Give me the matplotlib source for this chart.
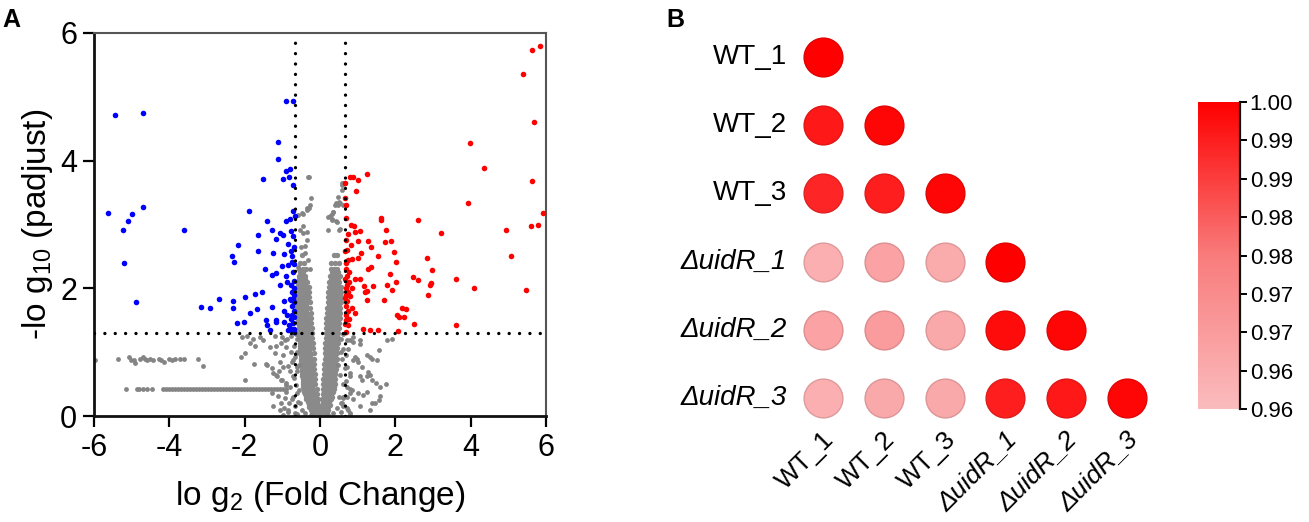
import matplotlib
matplotlib.use("Agg")
import matplotlib.pyplot as plt
import numpy as np
from matplotlib.colors import LinearSegmentedColormap

plt.rcParams['font.family'] = ['Liberation Sans', 'DejaVu Sans']
plt.rcParams['mathtext.fontset'] = 'custom'
plt.rcParams['mathtext.rm'] = 'Liberation Sans'
plt.rcParams['mathtext.it'] = 'Liberation Sans:italic'
plt.rcParams['mathtext.bf'] = 'Liberation Sans:bold'

# ---------------- Panel A data (volcano) ----------------
fc_threshold = 0.66
p_threshold = 1.30

blue_x = [-5.44, -4.69, -5.64, -5.22, -5.11, -5.00, -4.71, -5.20, -4.89, -3.61,
          -1.89, -1.51, -1.11, -1.11, -0.90, -0.71, -0.90, -0.80, -0.98, -0.82, -0.71,
          -1.40, -1.28, -1.65, -1.65, -2.18, -2.33, -2.29, -1.16, -1.05, -0.98,
          -0.90, -0.80, -0.71, -0.67,
          -0.96, -0.84, -0.77, -0.71, -1.28, -1.18, -1.05, -0.88, -0.85, -0.74, -0.68, -0.72,
          -3.15, -2.92, -2.67, -2.30, -2.30, -1.98, -1.72, -1.68, -1.28, -1.44, -1.40, -1.32,
          -2.21, -2.03, -1.16, -1.16, -0.96, -0.96, -0.80, -0.76, -0.71, -0.68, -0.74, -0.71, -0.75, -0.68,
          -0.70, -0.74, -0.69, -0.78, -0.70, -0.73, -0.69, -0.78, -0.70, -0.82, -0.70, -0.86, -0.73,
          -0.69, -0.76, -0.90, -0.95, -1.00, -1.25, -1.45, -1.55, -1.85, -0.88]
blue_y = [4.71, 4.74, 3.18, 2.92, 3.05, 3.16, 3.27, 2.40, 1.79, 2.92,
          3.21, 3.72, 4.29, 4.03, 4.94, 4.93, 3.84, 3.87, 3.72, 3.75, 3.62,
          3.05, 2.92, 2.83, 2.59, 2.68, 2.51, 2.42, 2.77, 2.86, 2.84,
          3.05, 3.08, 3.21, 3.14,
          2.54, 2.70, 2.58, 2.82, 2.21, 2.24, 2.06, 2.10, 2.37, 2.42, 2.38, 2.26,
          1.71, 1.69, 1.84, 1.80, 1.69, 1.87, 1.91, 1.67, 1.71, 1.50, 1.42, 1.34,
          1.45, 1.47, 1.50, 1.47, 1.47, 1.64, 1.84, 1.82, 1.84, 1.79, 1.58, 1.45, 1.37, 1.37,
          1.90, 1.95, 2.00, 2.05, 2.12, 1.72, 1.65, 1.52, 1.55, 1.42, 1.32, 1.35, 2.50,
          2.65, 2.90, 2.20, 1.80, 2.35, 2.55, 2.30, 1.95, 1.62, 1.58]

red_x = [5.83, 5.63, 5.38, 5.67, 3.98, 4.36, 5.64, 3.94, 5.91, 4.93, 5.59, 5.80, 5.07, 5.46,
         4.09, 3.62, 3.60, 3.20, 2.61, 2.85, 2.97, 2.91, 2.95, 2.87, 2.48, 2.61, 2.49,
         1.61, 1.63, 1.75, 1.72, 1.89, 1.97, 2.03, 1.55, 1.35, 1.27, 1.28, 1.35, 1.87, 2.01,
         1.79, 1.90, 1.40, 1.16, 1.26, 1.19, 1.25, 1.70, 2.17, 2.28, 2.04, 2.09, 2.23,
         1.15, 1.33, 1.55, 2.08,
         1.24, 0.80, 0.87, 1.02, 0.95, 0.66, 0.66, 0.82, 0.90, 1.06, 0.93, 1.00, 0.82, 0.66,
         1.09, 1.02, 0.84, 0.75, 0.93, 1.06, 0.66, 0.75, 0.68,
         0.67, 0.70, 0.74, 0.68, 0.72, 0.78, 0.67, 0.71, 0.76, 0.69, 0.73, 0.80, 0.84, 0.68,
         0.74, 0.68, 0.78, 0.70, 0.72, 0.68, 0.75, 0.70, 0.68, 0.85, 0.92, 0.68]
red_y = [5.79, 5.73, 5.36, 4.60, 4.27, 3.89, 3.68, 3.33, 3.18, 2.92, 2.97, 2.99, 2.50, 1.97,
         2.01, 2.14, 1.43, 2.86, 3.07, 2.47, 2.29, 2.06, 2.08, 1.90, 2.18, 2.13, 1.44,
         3.10, 3.07, 2.92, 2.72, 2.74, 2.57, 2.42, 2.50, 2.34, 2.31, 2.74, 2.65, 2.22, 2.10,
         2.05, 1.97, 2.04, 2.04, 1.96, 1.95, 1.81, 1.82, 1.70, 1.67, 1.58, 1.55, 1.55,
         1.36, 1.35, 1.34, 1.33,
         3.79, 3.75, 3.75, 3.69, 3.52, 3.65, 3.41, 2.99, 2.97, 2.90, 2.89, 2.74, 2.68, 2.59,
         2.55, 2.48, 2.46, 2.45, 2.14, 2.14, 1.44, 1.42, 1.32,
         1.85, 1.90, 1.95, 2.00, 2.05, 2.10, 2.15, 2.20, 2.25, 2.30, 1.80, 1.88, 2.00, 1.72,
         1.65, 1.58, 1.52, 2.40, 2.60, 2.75, 2.85, 3.10, 3.30, 1.70, 1.62, 1.50]

# dense V-shaped cloud of non-significant genes: rows of -log10 level -> log2FC values
gray_rows = {
    0.02: [-0.14, -0.08, -0.03, 0.00, 0.03, 0.08, 0.13],
    0.06: [-0.20, -0.12, -0.05, 0.05, 0.11, 0.18],
    0.10: [-0.24, -0.17, -0.10, -0.04, 0.04, 0.10, 0.16, 0.22],
    0.14: [-0.28, -0.20, -0.12, -0.05, 0.05, 0.13, 0.21],
    0.18: [-0.30, -0.22, -0.14, -0.06, 0.05, 0.12, 0.19, 0.26],
    0.22: [-0.33, -0.26, -0.18, -0.09, 0.08, 0.16, 0.24],
    0.26: [-0.36, -0.28, -0.20, -0.12, -0.06, 0.06, 0.13, 0.20, 0.28],
    0.30: [-0.38, -0.30, -0.22, -0.14, 0.10, 0.17, 0.25, 0.31],
    0.34: [-0.40, -0.32, -0.24, -0.16, -0.08, 0.07, 0.14, 0.22, 0.30],
    0.38: [-0.42, -0.34, -0.26, -0.18, 0.11, 0.19, 0.27, 0.34],
    0.42: [-0.43, -0.35, -0.27, -0.19, -0.09, 0.08, 0.15, 0.23, 0.31, 0.37],
    0.46: [-0.44, -0.36, -0.28, -0.20, 0.12, 0.20, 0.28, 0.36],
    0.50: [-0.45, -0.37, -0.29, -0.21, -0.12, 0.09, 0.16, 0.24, 0.32, 0.39],
    0.54: [-0.46, -0.38, -0.30, -0.22, 0.13, 0.21, 0.29, 0.37],
    0.58: [-0.46, -0.38, -0.30, -0.22, -0.13, 0.09, 0.17, 0.25, 0.33, 0.40],
    0.62: [-0.47, -0.39, -0.31, -0.23, 0.14, 0.22, 0.30, 0.38],
    0.66: [-0.47, -0.39, -0.31, -0.23, -0.14, 0.10, 0.18, 0.26, 0.34, 0.41],
    0.70: [-0.48, -0.40, -0.32, -0.24, 0.15, 0.23, 0.31, 0.39],
    0.74: [-0.48, -0.40, -0.32, -0.24, -0.15, 0.11, 0.19, 0.27, 0.35, 0.42],
    0.78: [-0.49, -0.41, -0.33, -0.25, 0.15, 0.23, 0.31, 0.39],
    0.82: [-0.49, -0.41, -0.33, -0.25, -0.15, 0.11, 0.19, 0.27, 0.35, 0.43],
    0.86: [-0.50, -0.42, -0.34, -0.26, 0.16, 0.24, 0.32, 0.40],
    0.90: [-0.50, -0.42, -0.34, -0.26, -0.16, 0.12, 0.20, 0.28, 0.36, 0.44],
    0.94: [-0.51, -0.43, -0.35, -0.27, 0.17, 0.25, 0.33, 0.41],
    0.98: [-0.51, -0.43, -0.35, -0.27, -0.17, 0.13, 0.21, 0.29, 0.37, 0.45],
    1.02: [-0.52, -0.44, -0.36, -0.28, 0.17, 0.25, 0.33, 0.42],
    1.06: [-0.52, -0.44, -0.36, -0.28, -0.18, 0.13, 0.21, 0.29, 0.37, 0.46],
    1.10: [-0.53, -0.45, -0.37, -0.29, 0.18, 0.26, 0.34, 0.43],
    1.14: [-0.53, -0.45, -0.37, -0.29, -0.19, 0.14, 0.22, 0.30, 0.38, 0.47],
    1.18: [-0.54, -0.46, -0.38, -0.30, 0.19, 0.27, 0.35, 0.44],
    1.22: [-0.54, -0.46, -0.38, -0.30, -0.20, 0.15, 0.23, 0.31, 0.39, 0.48],
    1.26: [-0.55, -0.47, -0.39, -0.31, 0.19, 0.28, 0.36, 0.45],
    1.30: [-0.56, -0.47, -0.39, -0.31, -0.21, 0.15, 0.23, 0.32, 0.40, 0.49],
    1.34: [-0.56, -0.48, -0.40, -0.32, 0.20, 0.29, 0.37, 0.46],
    1.38: [-0.57, -0.48, -0.40, -0.32, -0.22, 0.16, 0.24, 0.33, 0.41, 0.50],
    1.42: [-0.57, -0.49, -0.41, -0.33, 0.21, 0.30, 0.38, 0.47],
    1.46: [-0.58, -0.49, -0.41, -0.33, -0.23, 0.17, 0.25, 0.34, 0.42, 0.51],
    1.50: [-0.58, -0.50, -0.42, -0.34, 0.22, 0.31, 0.39, 0.48],
    1.54: [-0.59, -0.50, -0.42, -0.34, -0.24, 0.17, 0.26, 0.35, 0.43, 0.52],
    1.58: [-0.59, -0.51, -0.43, -0.35, 0.23, 0.32, 0.40, 0.49],
    1.62: [-0.59, -0.51, -0.43, -0.35, -0.25, 0.18, 0.27, 0.36, 0.44, 0.53],
    1.66: [-0.60, -0.52, -0.44, -0.36, 0.24, 0.33, 0.41, 0.50],
    1.70: [-0.60, -0.52, -0.44, -0.36, -0.26, 0.19, 0.28, 0.37, 0.45, 0.54],
    1.74: [-0.60, -0.52, -0.44, -0.36, 0.25, 0.34, 0.42, 0.51],
    1.78: [-0.60, -0.52, -0.44, -0.36, -0.27, 0.20, 0.29, 0.38, 0.46, 0.55],
    1.82: [-0.60, -0.53, -0.45, -0.37, 0.26, 0.35, 0.43, 0.52],
    1.86: [-0.60, -0.52, -0.45, -0.37, -0.28, 0.21, 0.30, 0.39, 0.47, 0.56],
    1.90: [-0.60, -0.53, -0.45, -0.38, 0.27, 0.36, 0.44, 0.53],
    1.94: [-0.60, -0.53, -0.45, -0.38, -0.29, 0.22, 0.31, 0.40, 0.48, 0.57],
    1.98: [-0.59, -0.52, -0.44, -0.36, 0.28, 0.37, 0.45, 0.54],
    2.02: [-0.59, -0.52, -0.44, -0.37, -0.30, 0.23, 0.32, 0.41, 0.49, 0.57],
    2.06: [-0.58, -0.50, -0.42, 0.29, 0.38, 0.46],
    2.10: [-0.58, -0.50, -0.42, -0.34, 0.24, 0.33, 0.42, 0.50],
    2.15: [-0.56, -0.47, -0.39, 0.30, 0.39, 0.48],
    2.20: [-0.57, -0.48, -0.40, 0.26, 0.35, 0.44, 0.52],
    2.25: [-0.54, -0.44, 0.31, 0.41, 0.49],
    2.30: [-0.55, -0.46, -0.38, 0.28, 0.37, 0.46],
    2.40: [-0.52, -0.43, 0.30, 0.40, 0.50],
    2.52: [-0.48, 0.36, 0.45],
}

# scattered non-significant genes
gray_x = [-0.29, -0.58, -0.49, -0.34, -0.27, -0.44, -0.35, -0.50, -0.40, -0.31, -0.58, -0.27,
          0.27, 0.35, 0.49, 0.58, 0.58, 0.49, 0.53, 0.40, 0.35, 0.44, 0.53, 0.31,
          -0.31, -0.25, 0.58, 0.64, 0.43, 0.51, 0.62, -0.44, -0.35, -0.28, 0.22, 0.31,
          0.31, 0.43, 0.22, 0.51, -0.53, -0.44, -0.35, -0.40,
          0.80, 0.88, 1.06, 1.77, 1.90, 1.57, 1.24, 1.33, 1.37, 0.88, 0.97, 1.51, 0.80,
          1.28, 1.33, 1.06, 1.11, 0.71, 0.80, 1.59, 1.75, 1.02, 1.13, 1.24, 1.37, 1.57,
          0.62, 0.71, 0.62, 0.71, 0.80,
          0.71, 0.88, 1.06, 0.93, 1.02, 1.11, 0.71, 0.80, 1.24, 1.37, 1.50, 1.59, 1.46,
          1.33, 1.06, 0.80, 0.88, 0.75, 0.62, 0.57,
          -2.08, -1.95, -1.77, -1.59, -1.86, -1.73, -2.11, -1.98, -1.74, -1.99, -1.40, -1.28,
          -1.16, -1.03, -0.90, -1.03, -1.16, -1.03,
          -1.51, -1.33, -1.42, -1.06, -0.97, -1.20, -0.89, -1.02, -0.93, -1.24, -1.15, -1.02,
          -0.89, -0.80, -0.71, -1.28, -1.11, -0.93, -0.75, -0.62, -0.53, -0.84, -0.66, -0.49,
          -0.62, -0.71, -0.62, -1.24, -1.06, -0.97,
          -0.62, -0.70, -0.78, -0.66, -0.74, -0.85, -0.62, -0.70, -0.80, -0.90, -0.64, -0.72,
          -0.58, -0.66, -0.82, -0.95, -0.55, -0.57, -0.60, -0.98, -1.10, -0.88, -1.20, -0.76,
          -0.65,
          0.55, 0.62, 0.58, 0.66, 0.52, 0.60, 0.70, 0.50, 0.58, 0.45, 0.68, 0.75, 0.62, 0.55,
          0.48, 0.85,
          -0.60, -0.40, 0.35, 0.55, 0.80, -0.85, -0.25, 0.22,
          -5.98, -5.36, -5.07, -5.02, -4.95, -4.90, -4.77, -4.71, -4.65, -4.58, -4.50, -4.42,
          -4.28, -4.22, -4.14, -4.00, -3.93, -3.86, -3.72, -3.60, -3.25, -3.10]
gray_y = [3.74, 3.15, 3.18, 3.26, 3.30, 2.97, 2.89, 2.65, 2.55, 2.44, 2.34, 2.31,
          3.14, 3.20, 3.30, 3.54, 3.65, 3.43, 3.33, 3.30, 3.19, 3.04, 2.93, 3.08,
          3.74, 3.42, 3.62, 3.65, 3.33, 3.36, 3.31, 3.17, 3.22, 3.26, 3.12, 3.17,
          3.07, 3.06, 2.91, 2.91, 2.91, 2.86, 2.76, 2.66,
          1.19, 1.16, 1.19, 1.19, 1.20, 1.03, 0.95, 0.93, 0.90, 0.88, 0.90, 0.88, 0.67,
          0.69, 0.64, 0.62, 0.56, 0.46, 0.43, 0.46, 0.50, 0.36, 0.33, 0.37, 0.21, 0.25,
          0.28, 0.30, 0.15, 0.13, 0.04,
          1.19, 1.24, 1.13, 0.93, 0.85, 0.77, 0.77, 0.62, 0.62, 0.57, 0.52, 0.31, 0.21,
          0.10, 0.15, 0.36, 0.26, 0.10, 0.30, 0.20,
          1.24, 1.25, 1.21, 1.24, 1.14, 1.09, 0.93, 0.98, 0.81, 0.57, 0.80, 0.75,
          0.64, 0.57, 0.49, 0.20, 1.09, 1.14,
          1.19, 1.08, 0.82, 0.85, 0.77, 0.98, 1.08, 1.24, 1.19, 0.68, 0.62, 0.57,
          0.52, 0.71, 0.62, 0.36, 0.31, 0.28, 0.26, 0.36, 0.20, 0.10, 0.05, 0.10,
          0.98, 0.88, 0.77, 0.15, 0.10, 0.02,
          1.20, 1.10, 1.00, 0.92, 0.84, 0.78, 0.70, 0.60, 0.45, 0.38, 0.48, 0.30,
          0.22, 0.15, 0.20, 0.12, 0.40, 0.80, 1.00, 0.95, 0.70, 1.20, 1.25, 1.26,
          1.28,
          1.20, 1.05, 0.90, 0.75, 0.65, 0.50, 0.55, 0.30, 0.20, 0.12, 0.95, 1.05, 1.28, 1.00,
          0.80, 0.40,
          0.03, 0.05, 0.04, 0.06, 0.02, 0.06, 0.02, 0.02,
          0.88, 0.90, 0.92, 0.88, 0.87, 0.83, 0.90, 0.92, 0.90, 0.88, 0.90, 0.88,
          0.90, 0.88, 0.85, 0.90, 0.88, 0.90, 0.90, 0.90, 0.90, 0.78]

# horizontal streak of genes at the same padj level
streak_level = 0.42
streak_x = [-5.15, -4.87, -4.80, -4.69, -4.59, -4.47, -4.18, -4.10, -4.02, -3.94, -3.86,
            -3.78, -3.70, -3.62, -3.54, -3.46, -3.38, -3.30, -3.22, -3.14, -3.06, -2.98,
            -2.90, -2.82, -2.74, -2.66, -2.58, -2.50, -2.42, -2.34, -2.26, -2.18, -2.10,
            -2.02, -1.94, -1.86, -1.78, -1.70, -1.62, -1.54, -1.46, -1.38, -1.30, -1.22,
            -1.14, -1.06, -0.98, -0.90]

x_ticks_a = [-6, -4, -2, 0, 2, 4, 6]
y_ticks_a = [0, 2, 4, 6]

# ---------------- Panel B data (correlation) ----------------
samples = ['WT_1', 'WT_2', 'WT_3', 'ΔuidR_1', 'ΔuidR_2', 'ΔuidR_3']
corr_rows = [
    [1.000],
    [0.996, 0.999],
    [0.994, 0.995, 0.999],
    [0.964, 0.968, 0.965, 1.000],
    [0.968, 0.970, 0.966, 0.998, 0.999],
    [0.964, 0.966, 0.966, 0.995, 0.996, 0.999],
]
cbar_ticks = [1.000, 0.995, 0.990, 0.985, 0.980, 0.975, 0.970, 0.965, 0.960]
cbar_labels = ['1.00', '0.99', '0.99', '0.98', '0.98', '0.97', '0.97', '0.96', '0.96']

# ---------------- Figure ----------------
fig = plt.figure(figsize=(13.09, 5.22), dpi=100)

axA = fig.add_axes([0.0718, 0.203, 0.3453, 0.7338])

ax_, ay_ = [], []
for lev, xs in gray_rows.items():
    for v in xs:
        ax_.append(v)
        ay_.append(lev)

gx = list(gray_x) + list(streak_x)
gy = list(gray_y) + [streak_level] * len(streak_x)

axA.scatter(ax_, ay_, s=15, color='#8a8a8a', linewidths=0, zorder=2)
axA.scatter(gx, gy, s=12, color='#848484', linewidths=0, zorder=2)
axA.scatter(blue_x, blue_y, s=16, color='#0000ff', linewidths=0, zorder=3)
axA.scatter(red_x, red_y, s=16, color='#ff0000', linewidths=0, zorder=3)

dot = (0, (0.01, 3.1))
axA.axhline(p_threshold, color='black', lw=2.4, ls=dot, dash_capstyle='round', zorder=4)
axA.axvline(-fc_threshold, color='black', lw=2.4, ls=dot, dash_capstyle='round', zorder=4)
axA.axvline(fc_threshold, color='black', lw=2.4, ls=dot, dash_capstyle='round', zorder=4)

axA.set_xlim(-6, 6)
axA.set_ylim(0, 6)
axA.set_xticks(x_ticks_a)
axA.set_yticks(y_ticks_a)
axA.set_xticklabels([str(t) for t in x_ticks_a])
axA.set_yticklabels([str(t) for t in y_ticks_a])
axA.tick_params(direction='out', length=8, width=1.6, labelsize=22, pad=4)
for side in ['left', 'bottom']:
    axA.spines[side].set_linewidth(2.0)
    axA.spines[side].set_color('#111111')
for side in ['top', 'right']:
    axA.spines[side].set_linewidth(1.5)
    axA.spines[side].set_color('#555555')
axA.set_xlabel(r'lo g$_2$ (Fold Change)', fontsize=24, labelpad=12)
axA.set_ylabel(r'-lo g$_{10}$ (padjust)', fontsize=24, labelpad=4)

fig.text(0.002, 0.985, 'A', fontsize=18, fontweight='bold', va='top', ha='left')
fig.text(0.509, 0.985, 'B', fontsize=18, fontweight='bold', va='top', ha='left')

# Panel B
axB = fig.add_axes([0.6054, 0.1724, 0.2788, 0.7835])
cmap = LinearSegmentedColormap.from_list('pinkred', ['#fbbcbe', '#f97c7c', '#ff0000'])
norm = plt.Normalize(vmin=0.96, vmax=1.0)

for r, row in enumerate(corr_rows):
    for c, val in enumerate(row):
        face = np.array(cmap(norm(val)))
        edge = face.copy()
        edge[:3] = edge[:3] * 0.88
        axB.scatter([c], [r], s=780, color=[face], edgecolors=[edge], linewidths=1.0, zorder=3)

axB.set_xlim(-0.5, 5.5)
axB.set_ylim(5.5, -0.5)
axB.axis('off')


def label_style(name):
    return 'italic' if name.startswith('Δ') else 'normal'


for r, name in enumerate(samples):
    axB.text(-0.59, r, name, ha='right', va='center', fontsize=20,
             fontstyle=label_style(name), clip_on=False)
for c, name in enumerate(samples):
    axB.text(c - 0.02, 5.43, name, ha='right', va='top', fontsize=19,
             fontstyle=label_style(name), rotation=45, rotation_mode='anchor', clip_on=False)

# colorbar
cax = fig.add_axes([0.9152, 0.2165, 0.0321, 0.588])
grad = np.linspace(0.96, 1.0, 256).reshape(-1, 1)
cax.imshow(grad, aspect='auto', cmap=cmap, norm=norm, origin='lower',
           extent=[0, 1, 0.96, 1.0])
cax.set_xlim(0, 1)
cax.set_ylim(0.96, 1.0)
cax.set_xticks([])
cax.yaxis.tick_right()
cax.set_yticks(cbar_ticks)
cax.set_yticklabels(cbar_labels)
cax.tick_params(axis='y', direction='out', length=5, width=1.4, labelsize=16, pad=2)
for side in ['left', 'top', 'bottom']:
    cax.spines[side].set_visible(False)
cax.spines['right'].set_linewidth(1.6)
cax.spines['right'].set_color('#111111')

fig.savefig('out.png', dpi=100)
